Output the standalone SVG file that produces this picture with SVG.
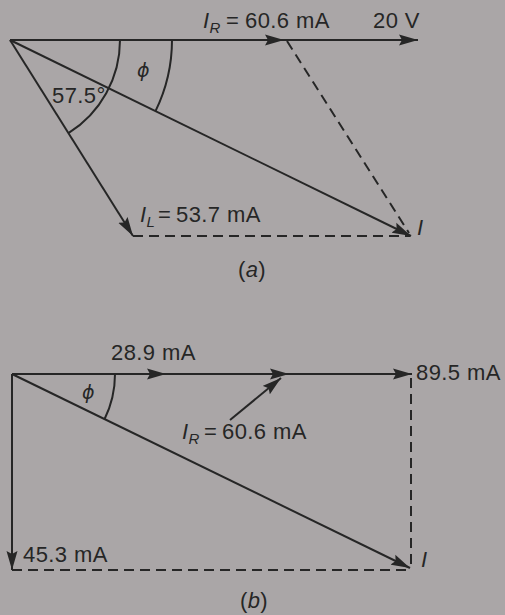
<svg xmlns="http://www.w3.org/2000/svg" width="505" height="615" viewBox="0 0 505 615">
<style>
.ln{stroke:#262626;stroke-width:2;fill:none}
.ds{stroke:#262626;stroke-width:2;fill:none;stroke-dasharray:10 6}
.ar{marker-end:url(#ah)}
text{font-family:"Liberation Sans",Arial,sans-serif;font-size:22px;fill:#262626;letter-spacing:0.4px}
.it{font-style:italic}
.sub{font-size:15px;font-style:italic}
.phi{font-family:"DejaVu Sans",sans-serif;font-size:19px;font-style:italic}
</style>
<defs>
<marker id="ah" markerUnits="userSpaceOnUse" markerWidth="20" markerHeight="12" refX="19" refY="6" orient="auto">
<path d="M0,0.5 L19,6 L0,11.5 L3,6 z" fill="#262626"/>
</marker>
</defs>
<rect width="505" height="615" fill="#aaa6a7"/>
<g id="connectors">
<!-- (a) -->
<path class="ln ar" d="M10,40 L284,40"/>
<path class="ln ar" d="M284,40 L418,40"/>
<path class="ln ar" d="M10,40 L133,236"/>
<path class="ln ar" d="M10,40 L411,236"/>
<path class="ds" d="M287,41 L409,233"/>
<path class="ds" d="M133,236 L410,236"/>
<path class="ln" d="M120,40 A110,110 0 0 1 68.4,133.2"/>
<path class="ln" d="M172,40 A162,162 0 0 1 155.5,111.1"/>
<!-- (b) -->
<path class="ln ar" d="M12,374 L166,374"/>
<path class="ln ar" d="M166,374 L289,374"/>
<path class="ln ar" d="M289,374 L412,374"/>
<path class="ln ar" d="M12,374 L12,570"/>
<path class="ln ar" d="M12,374 L410,568"/>
<path class="ds" d="M411,378 L411,568"/>
<path class="ds" d="M12,570 L410,570"/>
<path class="ln" d="M115,374 A103,103 0 0 1 104.4,419.5"/>
<path class="ln ar" d="M230,420 L281,378"/>
</g>
<g id="label-IR-a"><text x="203" y="28"><tspan class="it">I</tspan><tspan class="sub" dy="5">R</tspan><tspan dy="-5" x="226">=</tspan><tspan x="245">60.6 mA</tspan></text></g>
<g id="label-20V"><text x="373" y="28">20 V</text></g>
<g id="label-phi-a"><text class="phi" x="137" y="77">ϕ</text></g>
<g id="label-57"><text x="52" y="103">57.5°</text></g>
<g id="label-IL"><text x="140" y="222"><tspan class="it">I</tspan><tspan class="sub" dy="5">L</tspan><tspan dy="-5" x="158">=</tspan><tspan x="176">53.7 mA</tspan></text></g>
<g id="label-I-a"><text class="it" x="417" y="235">I</text></g>
<g id="caption-a"><text x="252" y="277" text-anchor="middle">(<tspan class="it">a</tspan>)</text></g>
<g id="label-289"><text x="111" y="360">28.9 mA</text></g>
<g id="label-895"><text x="416" y="380">89.5 mA</text></g>
<g id="label-phi-b"><text class="phi" x="82" y="399">ϕ</text></g>
<g id="label-IR-b"><text x="182" y="439"><tspan class="it">I</tspan><tspan class="sub" dy="5">R</tspan><tspan dy="-5" x="204">=</tspan><tspan x="222">60.6 mA</tspan></text></g>
<g id="label-453"><text x="23" y="562">45.3 mA</text></g>
<g id="label-I-b"><text class="it" x="421" y="567">I</text></g>
<g id="caption-b"><text x="254" y="608" text-anchor="middle">(<tspan class="it">b</tspan>)</text></g>
</svg>
